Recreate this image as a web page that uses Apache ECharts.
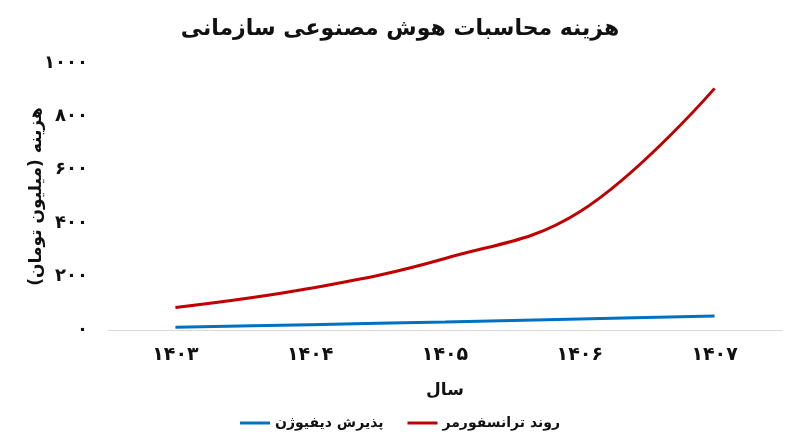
<!DOCTYPE html>
<html>
<head>
<meta charset="utf-8">
<script src="https://cdn.jsdelivr.net/npm/echarts@6/dist/echarts.min.js"></script>
<style>
  html, body { margin: 0; padding: 0; background: #fff; }
  #main { width: 800px; height: 447px; }
</style>
</head>
<body>
<div id="main"></div>
<script>
// years on the x axis (Persian digits)
var years = ['۱۴۰۳', '۱۴۰۴', '۱۴۰۵', '۱۴۰۶', '۱۴۰۷'];
// series values, million toman
var transformerTrend = [84, 156, 268, 443, 905];
var diffusionAdoption = [10, 20, 30, 41, 52];
var seriesNames = ['روند ترانسفورمر', 'پذیرش دیفیوژن'];

var FONT = 'DejaVu Sans';

function toPersianDigits(v) {
    return String(v).replace(/[0-9]/g, function (d) {
        return '۰۱۲۳۴۵۶۷۸۹'[d];
    });
}

var myChart = echarts.init(document.getElementById('main'));

myChart.setOption({
    backgroundColor: '#fff',
    animation: false,
    title: {
        text: 'هزینه محاسبات هوش مصنوعی سازمانی',
        left: 'center',
        top: 13,
        textStyle: {fontFamily: FONT, fontSize: 22, fontWeight: 'bold', color: '#111'}
    },
    legend: {
        data: [seriesNames[1], seriesNames[0]],
        bottom: 12,
        left: 'center',
        itemWidth: 30,
        itemGap: 24,
        icon: 'rect',
        itemHeight: 3,
        textStyle: {fontFamily: FONT, fontSize: 14, fontWeight: 'bold', color: '#111'}
    },
    grid: {
        left: 108,
        right: 18,
        top: 63,
        bottom: 117
    },
    xAxis: {
        type: 'category',
        data: years,
        name: 'سال',
        nameLocation: 'middle',
        nameGap: 52,
        nameTextStyle: {fontFamily: FONT, fontSize: 17, fontWeight: 'bold', color: '#111'},
        axisLine: {lineStyle: {color: '#d9d9d9', width: 1}},
        axisTick: {show: false},
        axisLabel: {fontFamily: FONT, fontSize: 19, fontWeight: 'bold', color: '#111', margin: 16}
    },
    yAxis: {
        type: 'value',
        min: 0,
        max: 1000,
        interval: 200,
        name: 'هزینه (میلیون تومان)',
        nameLocation: 'middle',
        nameGap: 63,
        nameMoveOverlap: false,
        nameTextStyle: {fontFamily: FONT, fontSize: 17, fontWeight: 'bold', color: '#111'},
        splitLine: {show: false},
        axisLine: {show: false},
        axisTick: {show: false},
        axisLabel: {
            fontFamily: FONT, fontSize: 18, fontWeight: 'bold', color: '#111', margin: 20,
            formatter: function (v) { return toPersianDigits(v); }
        }
    },
    series: [
        {
            name: seriesNames[0],
            type: 'line',
            data: transformerTrend,
            smooth: 0.4,
            showSymbol: false,
            lineStyle: {color: '#C00000', width: 3},
            itemStyle: {color: '#C00000'}
        },
        {
            name: seriesNames[1],
            type: 'line',
            data: diffusionAdoption,
            smooth: 0.4,
            showSymbol: false,
            lineStyle: {color: '#0070C0', width: 3},
            itemStyle: {color: '#0070C0'}
        }
    ]
});
</script>
</body>
</html>
